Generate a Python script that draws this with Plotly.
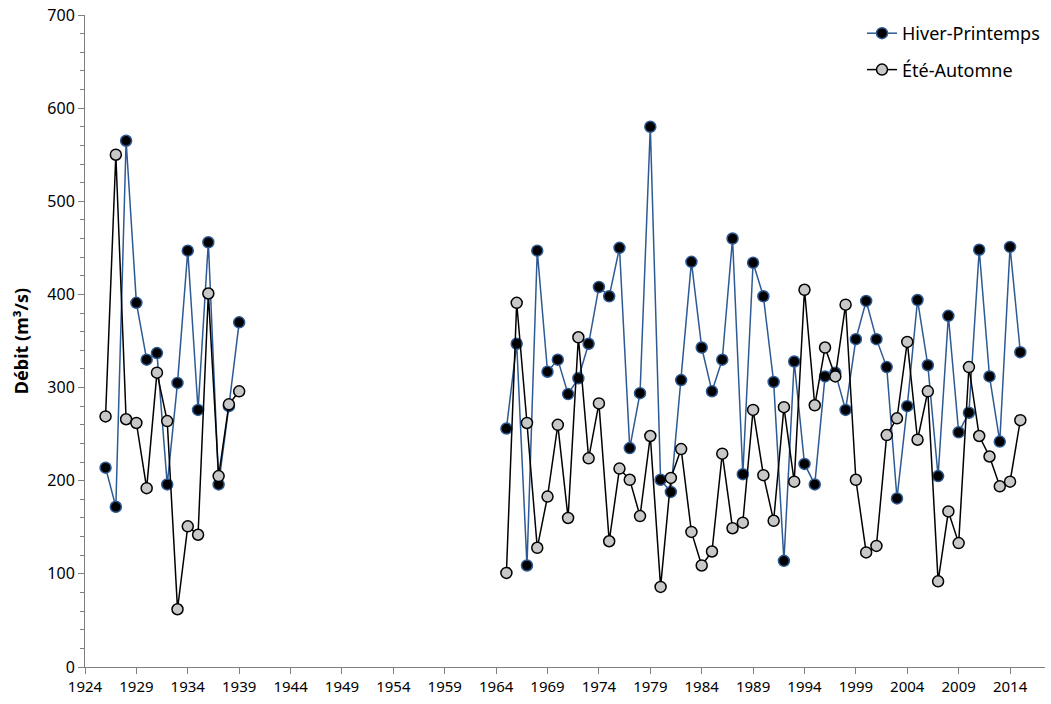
import plotly.graph_objects as go

years1 = list(range(1926, 1940))
hp1 = [214, 172, 565, 391, 330, 337, 196, 305, 447, 276, 456, 196, 280, 370]
ea1 = [269, 550, 266, 262, 192, 316, 264, 62, 151, 142, 401, 205, 282, 296]

years2 = list(range(1965, 2016))
hp2 = [256, 347, 109, 447, 317, 330, 293, 310, 347, 408, 398, 450, 235, 294, 580,
       201, 188, 308, 435, 343, 296, 330, 460, 207, 434, 398, 306, 114, 328, 218,
       196, 312, 316, 276, 352, 393, 352, 322, 181, 280, 394, 324, 205, 377, 252,
       273, 448, 312, 242, 451, 338]
ea2 = [101, 391, 262, 128, 183, 260, 160, 354, 224, 283, 135, 213, 201, 162, 248,
       86, 203, 234, 145, 109, 124, 229, 149, 155, 276, 206, 157, 279, 199, 405,
       281, 343, 312, 389, 201, 123, 130, 249, 267, 349, 244, 296, 92, 167, 133,
       322, 248, 226, 194, 199, 265]

x_all = years1 + [None] + years2
hp_all = hp1 + [None] + hp2
ea_all = ea1 + [None] + ea2

fig = go.Figure()
fig.add_trace(go.Scatter(
    x=x_all, y=hp_all, name="Hiver-Printemps", mode="lines+markers",
    legendgroup="hp",
    line=dict(color="#2E5A94", width=1.5),
    marker=dict(color="#000000", size=11, line=dict(color="#2E5A94", width=1.5)),
    connectgaps=False,
))
fig.add_trace(go.Scatter(
    x=x_all, y=ea_all, name="Été-Automne", mode="lines+markers",
    legendgroup="ea",
    line=dict(color="#000000", width=1.5),
    marker=dict(color="#C8C8C8", size=11, line=dict(color="#000000", width=1.5)),
    connectgaps=False,
))

fig.update_layout(
    width=1051, height=704,
    margin=dict(l=85, r=6, t=15, b=37),
    paper_bgcolor="white", plot_bgcolor="white",
    font=dict(family="Noto Sans", size=15, color="#000000"),
    showlegend=True,
    legend=dict(x=1.0, xanchor="right", y=1.0, yanchor="top",
                font=dict(size=18), bgcolor="rgba(255,255,255,0)",
                itemwidth=30, tracegroupgap=10),
)
fig.update_xaxes(
    range=[1924, 2017.4], tickmode="linear", tick0=1924, dtick=5,
    showgrid=False, zeroline=False, showline=True, linecolor="#7F7F7F", linewidth=1,
    ticks="outside", ticklen=6, tickcolor="#7F7F7F",
    tickfont=dict(size=15), automargin=False,
)
fig.update_yaxes(
    range=[0, 700], tickmode="linear", tick0=0, dtick=100,
    showgrid=False, zeroline=False, showline=True, linecolor="#7F7F7F", linewidth=1,
    ticks="outside", ticklen=6, tickcolor="#7F7F7F",
    minor=dict(dtick=20, ticks="outside", ticklen=4, tickcolor="#7F7F7F"),
    tickfont=dict(size=16), automargin=False,
    title=dict(text="<b>Débit (m³/s)</b>", font=dict(size=18), standoff=14),
)

fig.write_html("out.html",
               config={"displayModeBar": False},
               post_script="document.body.style.margin='0';document.body.style.overflow='hidden';")
